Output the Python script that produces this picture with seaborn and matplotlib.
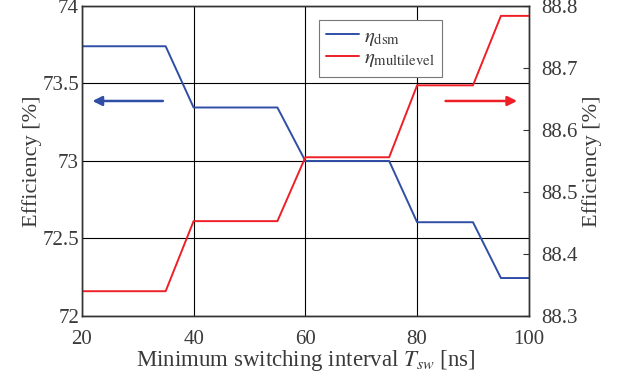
import seaborn as sns
import pandas as pd
import matplotlib.pyplot as plt
import numpy as np

# step data
t_sw = [20, 25, 30, 35, 40, 45, 50, 55, 60, 65, 70, 75, 80, 85, 90, 95, 100]
eta_dsm = [73.74, 73.74, 73.74, 73.74, 73.345, 73.345, 73.345, 73.345,
           73.0, 73.0, 73.0, 73.0, 72.605, 72.605, 72.605, 72.245, 72.245]
eta_multi = [88.34, 88.34, 88.34, 88.34, 88.453, 88.453, 88.453, 88.453,
             88.556, 88.556, 88.556, 88.556, 88.672, 88.672, 88.672, 88.784, 88.784]

df = pd.DataFrame({'t_sw': t_sw, 'dsm': eta_dsm, 'multi': eta_multi})

sns.set_style('white')
plt.rcParams['font.family'] = ['Liberation Serif', 'DejaVu Serif']
plt.rcParams['mathtext.fontset'] = 'stix'

blue = '#2f4ea6'
red = '#ee1f26'
txt = '#3a3a3a'

fig = plt.figure(figsize=(6.2, 3.72), dpi=100)
ax = fig.add_axes([0.132, 0.1505, 0.721, 0.8335])
ax2 = ax.twinx()

sns.lineplot(data=df, x='t_sw', y='dsm', ax=ax, color=blue, lw=1.4, label=r'$\eta_{\mathrm{dsm}}$', legend=False)
sns.lineplot(data=df, x='t_sw', y='multi', ax=ax2, color=red, lw=1.4, label=r'$\eta_{\mathrm{multilevel}}$', legend=False)

ax.set_xlim(20, 100)
ax.set_ylim(72, 74)
ax2.set_ylim(88.3, 88.8)
ax.set_xticks([20, 40, 60, 80, 100])
ax.set_yticks([72, 72.5, 73, 73.5, 74])
ax.set_yticklabels(['72', '72.5', '73', '73.5', '74'])
ax2.set_yticks([88.3, 88.4, 88.5, 88.6, 88.7, 88.8])
ax.grid(True, color='black', lw=0.8)
ax.set_axisbelow(True)

for a in (ax, ax2):
    a.tick_params(direction='in', labelsize=15, labelcolor=txt, length=4, color='#333333')
    for s in a.spines.values():
        s.set_color('#333333')
        s.set_linewidth(1.0)
ax.tick_params(axis='y', length=0, pad=2)
ax.tick_params(axis='x', length=0, pad=10)
ax2.tick_params(axis='y', pad=9)

ax.set_xlabel(r'Minimum switching interval $T_{sw}$ [ns]', fontsize=16.5, color=txt, labelpad=-1)
ax.set_ylabel('Efficiency [%]', fontsize=16, color=txt, labelpad=0)
ax2.set_ylabel('Efficiency [%]', fontsize=16, color=txt, labelpad=3)

ax.annotate('', xy=(21.4, 73.387), xytext=(35, 73.387),
            arrowprops=dict(arrowstyle='-|>', color=blue, lw=1.8, mutation_scale=14))
ax.annotate('', xy=(98.4, 73.387), xytext=(84.6, 73.387),
            arrowprops=dict(arrowstyle='-|>', color=red, lw=1.8, mutation_scale=14))

h1, l1 = ax.get_legend_handles_labels()
h2, l2 = ax2.get_legend_handles_labels()
leg = ax2.legend(h1 + h2, l1 + l2, loc='upper left', bbox_to_anchor=(0.53, 0.955),
                 borderaxespad=0, fontsize=15, frameon=True, fancybox=False, framealpha=1,
                 edgecolor='#777777', handlelength=1.6, handletextpad=0.2,
                 labelspacing=0.05, borderpad=0.35)
leg.get_frame().set_linewidth(0.8)
for t in leg.get_texts():
    t.set_color(txt)

plt.savefig('out.png', dpi=100)
